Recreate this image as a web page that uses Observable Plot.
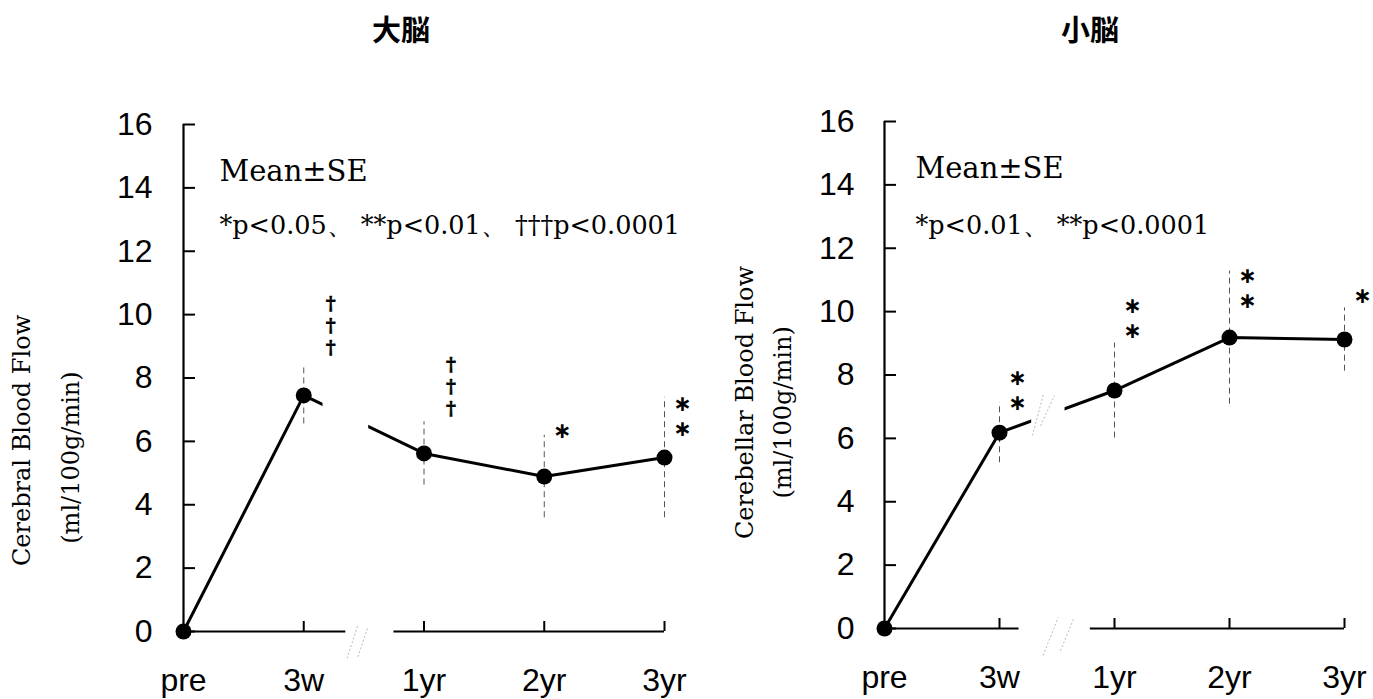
<!DOCTYPE html>
<html><head><meta charset="utf-8">
<script src="https://cdn.jsdelivr.net/npm/d3@7"></script>
<script src="https://cdn.jsdelivr.net/npm/@observablehq/plot@0.6"></script>
<style>
body{margin:0;background:#fff;}
#wrap{position:relative;width:1373px;height:699px;overflow:hidden;background:#fff;}
.panel{position:absolute;top:0;}
.title{position:absolute;top:13px;height:30px;line-height:30px;font-family:"Noto Sans CJK JP";font-weight:bold;font-size:29px;transform:translateX(-50%);white-space:nowrap;}
</style></head>
<body><div id="wrap"></div>
<script>
// ---- data ----
const timeLabels = ["pre", "3w", "1yr", "2yr", "3yr"];
const yTicks = [0, 2, 4, 6, 8, 10, 12, 14, 16];
const titles = ["大脳", "小脳"];
const yTitles = ["Cerebral Blood Flow", "Cerebellar Blood Flow"];
const yUnit = "(ml/100g/min)";
const noteMean = "Mean\u00b1SE";
const noteLeft = "*p<0.05、 **p<0.01、 \u2020\u2020\u2020p<0.0001";
const noteRight = "*p<0.01、 **p<0.0001";

const cerebrumMean = [0, 7.45, 5.62, 4.89, 5.49];
const cerebrumSE   = [0, 0.9, 1.0, 1.3, 1.9];
const cerebellumMean = [0, 6.18, 7.51, 9.18, 9.12];
const cerebellumSE   = [0, 0.95, 1.5, 2.1, 1.0];

// significance marks: time index, symbol, value level
const cerebrumSig = [
  {i: 1, s: "\u2020\n\u2020\n\u2020", v: 9.66},
  {i: 2, s: "\u2020\n\u2020\n\u2020", v: 7.76},
  {i: 3, s: "\u2217", v: 6.37},
  {i: 4, s: "\u2217\n\u2217", v: 6.82}
];
const cerebellumSig = [
  {i: 1, s: "\u2217\n\u2217", v: 7.54},
  {i: 2, s: "\u2217\n\u2217", v: 9.81},
  {i: 3, s: "\u2217\n\u2217", v: 10.76},
  {i: 4, s: "\u2217", v: 10.51}
];

// axis-break geometry (in time-index / value units)
const leftAxisSegs = [{x1: 0, x2: 1.35}, {x1: 1.75, x2: 4}];
const rightAxisSegs = [{x1: 0, x2: 1.17}, {x1: 1.79, x2: 4}];
const leftLineMask = [{x1: 1.16, x2: 1.54, y1: 5.9, y2: 7.45}];
const rightLineMask = [{x1: 1.28, x2: 1.57, y1: 6.2, y2: 7.3}];
const leftBreakMarks = [
  {x1: 1.36, y1: -0.85, x2: 1.45, y2: 0.2},
  {x1: 1.45, y1: -0.8, x2: 1.53, y2: 0.1}
];
const rightBreakMarks = [
  {x1: 1.38, y1: -0.85, x2: 1.51, y2: 0.35},
  {x1: 1.53, y1: -0.7, x2: 1.65, y2: 0.35},
  {x1: 1.287, y1: 6.09, x2: 1.383, y2: 7.41},
  {x1: 1.357, y1: 6.4, x2: 1.478, y2: 7.35}
];

const SANS = "Liberation Sans, Arial, sans-serif";
const SERIF = "DejaVu Serif, serif";

function panel(o) {
  const rows = o.mean.map((m, i) => ({i, m, se: o.se[i]}));
  const sigStar = o.sig.filter(d => d.s.includes("\u2217"));
  const sigDag = o.sig.filter(d => !d.s.includes("\u2217"));
  return Plot.plot({
    width: o.width, height: 699,
    marginLeft: o.ml, marginRight: o.mr, marginTop: o.mt, marginBottom: o.mb,
    x: {domain: [0, 4], axis: null},
    y: {domain: [0, 16], axis: null},
    style: {background: "transparent", overflow: "visible", fontFamily: SANS},
    marks: [
      Plot.ruleX([0], {y1: 0, y2: 16, strokeWidth: 2.2}),
      Plot.ruleY(o.axisSegs, {x1: "x1", x2: "x2", y: 0, strokeWidth: 2.2}),
      Plot.axisY({ticks: yTicks, tickSize: 12, dx: 12, tickFormat: () => "", strokeWidth: 2}),
      Plot.axisY({ticks: yTicks, tickSize: 0, tickPadding: o.yPad, fontSize: 32, fontFamily: SANS, fill: "#000"}),
      Plot.axisX({ticks: [1, 2, 3, 4], tickSize: 10, dy: -10, tickFormat: () => "", strokeWidth: 2}),
      Plot.axisX({ticks: [0, 1, 2, 3, 4], tickSize: 0, tickPadding: 37, tickFormat: i => timeLabels[i], fontSize: 32, fontFamily: SANS, fill: "#000"}),
      Plot.ruleX(rows.filter(d => d.i > 0), {x: "i", y1: d => d.m - d.se, y2: d => d.m + d.se, stroke: "#555", strokeWidth: 1, strokeDasharray: "6,4"}),
      Plot.line(rows, {x: "i", y: "m", stroke: "#000", strokeWidth: 3}),
      Plot.rect(o.mask, {x1: "x1", x2: "x2", y1: "y1", y2: "y2", fill: "#fff"}),
      Plot.link(o.breaks, {x1: "x1", y1: "y1", x2: "x2", y2: "y2", stroke: "#bbb", strokeWidth: 1, strokeDasharray: "2,2"}),
      Plot.dot(rows, {x: "i", y: "m", r: 8, fill: "#000"}),
      Plot.text(sigDag, {x: "i", y: "v", text: "s", dx: 27, fontFamily: SERIF, fontWeight: "bold", fontSize: 19, lineHeight: 1.16, fill: "#000", stroke: "#000", strokeWidth: 0.6}),
      Plot.text(sigStar, {x: "i", y: "v", text: "s", dx: 18, fontFamily: "DejaVu Sans", fontWeight: "bold", fontSize: 22, lineHeight: 1.12, fill: "#000"}),
      Plot.text([noteMean], {frameAnchor: "top-left", textAnchor: "start", lineAnchor: "top", dx: o.noteDx, dy: 36, fontFamily: SERIF, fontSize: 29, fill: "#000"}),
      Plot.text([o.note], {frameAnchor: "top-left", textAnchor: "start", lineAnchor: "top", dx: o.noteDx, dy: o.noteDy, fontFamily: SERIF, fontSize: 25.5, fill: "#000"}),
      Plot.text([o.yTitle], {frameAnchor: "left", textAnchor: "middle", lineAnchor: "middle", y: o.t1y, dx: o.t1dx, rotate: -90, fontFamily: SERIF, fontSize: 24, fill: "#000"}),
      Plot.text([yUnit], {frameAnchor: "left", textAnchor: "middle", lineAnchor: "middle", y: o.t2y, dx: o.t2dx, rotate: -90, fontFamily: SERIF, fontSize: 24, fill: "#000"})
    ]
  });
}

const wrap = document.getElementById("wrap");
const left = panel({
  mean: cerebrumMean, se: cerebrumSE, sig: cerebrumSig,
  width: 700, ml: 183, mr: 36, mt: 124, mb: 68, yPad: 31,
  axisSegs: leftAxisSegs, mask: leftLineMask, breaks: leftBreakMarks,
  note: noteLeft, noteDx: 36, noteDy: 91,
  yTitle: yTitles[0], t1y: 6.03, t1dx: -161, t2y: 5.49, t2dx: -112
});
const right = panel({
  mean: cerebellumMean, se: cerebellumSE, sig: cerebellumSig,
  width: 673, ml: 184, mr: 29, mt: 121, mb: 71, yPad: 30,
  axisSegs: rightAxisSegs, mask: rightLineMask, breaks: rightBreakMarks,
  note: noteRight, noteDx: 31, noteDy: 94,
  yTitle: yTitles[1], t1y: 7.13, t1dx: -139, t2y: 6.82, t2dx: -101
});
const d1 = document.createElement("div"); d1.className = "panel"; d1.style.left = "0px"; d1.appendChild(left);
const d2 = document.createElement("div"); d2.className = "panel"; d2.style.left = "700px"; d2.appendChild(right);
wrap.appendChild(d1); wrap.appendChild(d2);
[[titles[0], 401], [titles[1], 1090]].forEach(([t, x]) => {
  const el = document.createElement("div"); el.className = "title"; el.style.left = x + "px"; el.textContent = t; wrap.appendChild(el);
});
</script></body></html>
